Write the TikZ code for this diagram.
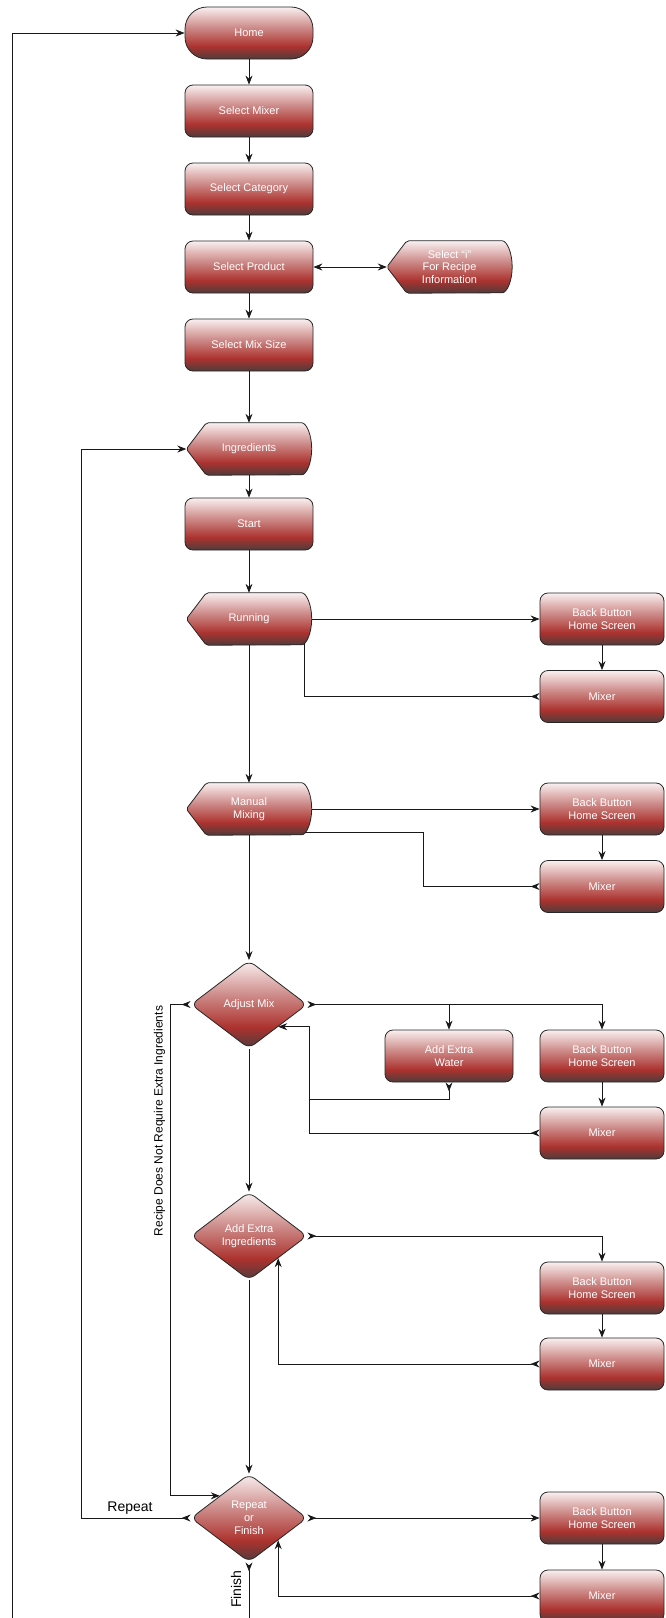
\documentclass[tikz,border=0pt]{standalone}
\usepackage{fontspec}
\setmainfont{Liberation Sans}
\usetikzlibrary{arrows.meta,shapes.geometric,backgrounds}

\definecolor{shadetop}{RGB}{250,240,240}
\definecolor{shademid}{RGB}{206,142,140}
\definecolor{shadered}{RGB}{172,50,46}
\definecolor{shadebot}{RGB}{78,60,60}
\pgfdeclareverticalshading{boxshade}{100bp}{color(0bp)=(shadebot); color(25bp)=(shadebot); color(37bp)=(shadered); color(56bp)=(shademid); color(75bp)=(shadetop); color(100bp)=(shadetop)}

\tikzset{
  >={Stealth[length=9pt,width=7pt,inset=3pt]},
  flow/.style={draw=black!90, line width=0.8pt},
  box/.style={rectangle, rounded corners=8pt, draw=black!85, line width=0.8pt, shade, shading=boxshade, text=white, font=\fontsize{11}{12.5}\selectfont, align=center, minimum width=128pt, minimum height=52pt, inner sep=2pt},
  rbox/.style={box, minimum width=124pt},
  term/.style={box, rounded corners=22pt},
  choice/.style={diamond, rounded corners=7pt, draw=black!85, line width=0.8pt, shade, shading=boxshade, text=white, font=\fontsize{11}{12.8}\selectfont, align=center, minimum width=116pt, minimum height=88pt, inner sep=0pt},
  disp/.style={rectangle, text=white, font=\fontsize{11}{12.5}\selectfont, align=center, minimum width=125pt, minimum height=52pt, inner sep=2pt},
  lbl/.style={font=\fontsize{14}{16}\selectfont}
}
\newcommand{\dispshape}[1]{%
  \shade[shading=boxshade, draw=black!85, line width=0.8pt, rounded corners=2pt]
    (#1.west) -- ([xshift=20pt]#1.north west) -- ([xshift=-12pt]#1.north east)
    arc[start angle=90, end angle=-90, x radius=12pt, y radius=26pt]
    -- ([xshift=20pt]#1.south west) -- cycle;}

\begin{document}
\begin{tikzpicture}[x=1pt,y=-1pt]
\useasboundingbox (0,0) rectangle (665,1618);

\node[term] (home) at (249,33) {Home};
\node[box] (selmixer) at (249,111) {Select Mixer};
\node[box] (selcat) at (249,189) {Select Category};
\node[box] (selprod) at (249,267) {Select Product};
\node[disp] (info) at (449.5,267) {Select “i”\\For Recipe\\Information};
\node[box] (selsize) at (249,345) {Select Mix Size};
\node[disp] (ingr) at (249,449) {Ingredients};
\node[box] (start) at (249,524) {Start};
\node[disp] (running) at (249,619) {Running};
\node[rbox] (back1) at (602,619) {Back Button\\Home Screen};
\node[rbox] (mixer1) at (602,696.5) {Mixer};
\node[disp] (manual) at (249,809) {Manual\\Mixing};
\node[rbox] (back2) at (602,809) {Back Button\\Home Screen};
\node[rbox] (mixer2) at (602,886.5) {Mixer};
\node[choice] (adjust) at (249,1004.5) {Adjust Mix};
\node[box] (water) at (449,1056) {Add Extra\\Water};
\node[rbox] (back3) at (602,1056) {Back Button\\Home Screen};
\node[rbox] (mixer3) at (602,1133) {Mixer};
\node[choice] (extra) at (249,1236) {Add Extra\\Ingredients};
\node[rbox] (back4) at (602,1288) {Back Button\\Home Screen};
\node[rbox] (mixer4) at (602,1364) {Mixer};
\node[choice] (again) at (249,1518) {Repeat\\or\\Finish};
\node[rbox] (back5) at (602,1518) {Back Button\\Home Screen};
\node[rbox] (mixer5) at (602,1596) {Mixer};

\begin{scope}[on background layer]
\dispshape{info}
\dispshape{ingr}
\dispshape{running}
\dispshape{manual}
\end{scope}

\node[lbl] (replbl) at (130,1508) {Repeat};
\node[lbl, rotate=90] (finlbl) at (236,1589) {Finish};
\node[font=\fontsize{12}{14}\selectfont, rotate=90] (skiplbl) at (159.5,1121) {Recipe Does Not Require Extra Ingredients};

\coordinate (manbend) at (423,832);
\coordinate (adjbend) at (309,1099);
\coordinate (repbend) at (81,1518);
\coordinate (finend) at (249,1620);
\coordinate (loopend) at (12,1620);

\draw[flow,->] (home) -- (selmixer);
\draw[flow,->] (selmixer) -- (selcat);
\draw[flow,->] (selcat) -- (selprod);
\draw[flow,<->] (selprod) -- (info);
\draw[flow,->] (selprod) -- (selsize);
\draw[flow,->] (selsize) -- (ingr);
\draw[flow,->] (ingr) -- (start);
\draw[flow,->] (start) -- (running);
\draw[flow,->] (running) -- (manual);
\draw[flow,->] (manual) -- (adjust);
\draw[flow,->] (adjust) -- (extra);
\draw[flow,->] (extra) -- (again);

\draw[flow,->] (running) -- (back1);
\draw[flow,->] (back1) -- (mixer1);
\draw[flow,>-] (mixer1.west) -| ([xshift=55pt,yshift=2pt]running.south);

\draw[flow,->] (manual) -- (back2);
\draw[flow,->] (back2) -- (mixer2);
\draw[flow,>-] (mixer2.west) -| (manbend) -- ([xshift=-7pt]manbend -| manual.east);

\draw[flow,>->] (adjust.east) -| (back3.north);
\draw[flow,->] (adjust.east -| water.north) -- (water.north);
\draw[flow,->] (back3) -- (mixer3);
\draw[flow,>->] (water.south) |- (adjbend) |- (adjust.south east);
\draw[flow,>-] (mixer3.west) -| (adjbend);
\draw[flow,>->] (adjust.west) -- ++(-20,0) |- (again.north west);

\draw[flow,>->] (extra.east) -| (back4.north);
\draw[flow,->] (back4) -- (mixer4);
\draw[flow,>->] (mixer4.west) -| (extra.south east);

\draw[flow,>->] (again.east) -- (back5.west);
\draw[flow,->] (back5) -- (mixer5);
\draw[flow,>->] (mixer5.west) -| (again.south east);
\draw[flow,>->] (again.west) -- (repbend) |- (ingr.west);
\draw[flow,>-] (again.south) -- (finend);
\draw[flow,->] (loopend) |- (home.west);
\end{tikzpicture}
\end{document}
